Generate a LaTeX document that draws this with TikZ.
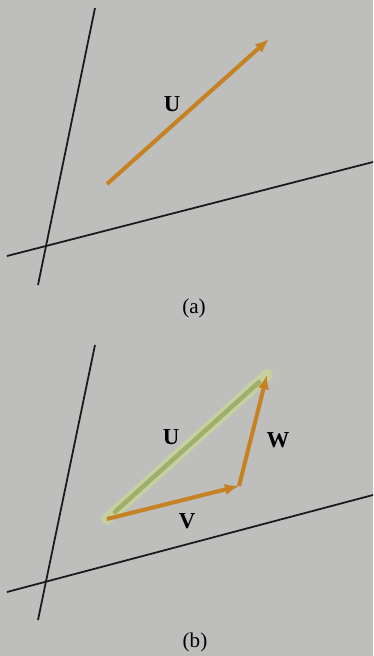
\documentclass[tikz,border=0pt]{standalone}
\usepackage{fontspec}
\setmainfont{Liberation Serif}
\usetikzlibrary{arrows.meta,calc}
\definecolor{bggray}{RGB}{190,190,189}
\definecolor{vecorange}{RGB}{198,130,34}
\definecolor{sumgreen}{RGB}{158,176,108}
\definecolor{sumglow}{RGB}{200,208,160}
\tikzset{
  axisline/.style={line width=1pt, black!90},
  vec/.style={-{Latex[length=8pt,width=6.5pt]}, line width=2.3pt, vecorange},
  glowvec/.style={line width=6.5pt, sumglow, line cap=round},
  corevec/.style={line width=2.6pt, sumgreen, line cap=round},
  veclabel/.style={font=\fontsize{13}{15}\selectfont\bfseries, inner sep=1pt},
  caption/.style={font=\fontsize{12}{14}\selectfont, inner sep=1pt},
}

\begin{document}
\begin{tikzpicture}[x=0.02cm, y=-0.02cm]
  % Background
  \fill[bggray] (0,0) rectangle (373,656);
  \useasboundingbox (0,0) rectangle (373,656);

  % (a) axes
  \coordinate (atop) at (95,8);
  \coordinate (abot) at (38,285);
  \coordinate (aleft) at (7,256);
  \coordinate (aright) at (373,162);
  \draw[axisline] (atop) -- (abot);
  \draw[axisline] (aleft) -- (aright);

  % (a) vector U
  \coordinate (uatail) at (107,184);
  \coordinate (uahead) at (269,39);
  \draw[vec] (uatail) -- (uahead);
  \node[veclabel] (ua) at (172,104) {U};
  \node[caption] (capa) at (194,308) {(a)};

  % (b) axes
  \coordinate (btop) at (95,345);
  \coordinate (bbot) at (38,620);
  \coordinate (bleft) at (7,592);
  \coordinate (bright) at (373,495);
  \draw[axisline] (btop) -- (bbot);
  \draw[axisline] (bleft) -- (bright);

  % (b) sum U, then V and W
  \coordinate (btail) at (107,519);
  \coordinate (bmid) at (239,486);
  \coordinate (bhead) at (267,375);
  \draw[glowvec] (btail) -- (bhead);
  \draw[corevec] ($(btail)!0.05!(bhead)$) -- ($(btail)!0.95!(bhead)$);
  \draw[vec] (btail) -- (bmid);
  \draw[vec] (bmid) -- (bhead);
  \node[veclabel] (ub) at (171,437) {U};
  \node[veclabel] (wb) at (278,440) {W};
  \node[veclabel] (vb) at (187,521) {V};
  \node[caption] (capb) at (195,642) {(b)};
\end{tikzpicture}
\end{document}
